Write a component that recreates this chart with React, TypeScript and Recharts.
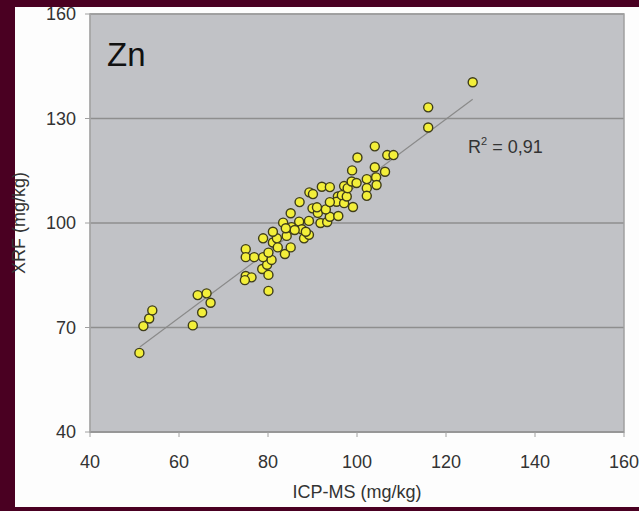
import React from 'react';
import {
  ScatterChart,
  Scatter,
  XAxis,
  YAxis,
  ZAxis,
  CartesianGrid,
  ReferenceLine,
  ReferenceArea,
} from 'recharts';

// ICP-MS (x) and XRF (y) values, mg/kg
const icpms = [
  51.1, 52.0, 53.3, 54.0, 63.1, 64.2, 65.2, 66.2, 67.1,
  75.0, 75.0, 76.9, 75.0, 76.3, 74.8, 78.7, 80.1, 80.1, 79.8, 78.9,
  80.8, 80.1, 83.8, 78.9, 81.1, 82.0, 82.2, 85.1, 84.2, 81.1,
  83.4, 85.3, 85.1, 87.0, 87.6, 88.1, 89.2, 87.1, 89.2, 91.8,
  93.3, 93.9, 95.8, 90.0, 91.2, 93.0, 89.3, 90.1, 92.1, 93.9,
  95.7, 95.4, 93.9, 97.1, 99.1, 96.6, 97.7, 97.1, 97.9, 98.8,
  99.9, 98.9, 100.1, 102.2, 104.3, 104.4, 102.2, 102.2, 104.0, 106.3,
  104.0, 106.8, 108.2, 116.0, 116.0, 126.0,
  86.0, 88.5, 84.0, 91.0,
];
const xrf = [
  62.7, 70.4, 72.6, 74.9, 70.6, 79.3, 74.3, 79.8, 77.1,
  92.5, 90.2, 90.2, 84.8, 84.4, 83.6, 86.8, 80.5, 85.1, 88.0, 90.2,
  89.4, 91.5, 91.1, 95.6, 94.4, 95.6, 93.0, 93.0, 96.3, 97.5,
  100.1, 98.8, 102.8, 100.4, 98.2, 95.6, 96.6, 106.0, 100.6, 100.0,
  100.3, 101.8, 102.0, 104.2, 102.9, 103.9, 108.8, 108.3, 110.4, 110.3,
  107.6, 106.1, 106.0, 105.7, 104.6, 108.0, 107.6, 110.6, 110.0, 111.9,
  111.5, 115.1, 118.8, 112.6, 113.1, 110.9, 110.0, 107.8, 116.0, 114.7,
  122.0, 119.5, 119.5, 133.2, 127.4, 140.4,
  98.0, 97.5, 98.5, 104.5,
];

const xTicks = [40, 60, 80, 100, 120, 140, 160];
const yTicks = [40, 70, 100, 130, 160];
const trendX = [51.2, 126.0];
const trendY = [64.4, 135.5];

const points = icpms.map((x, i) => ({ x, y: xrf[i] }));

const FONT = '"Liberation Sans", Arial, sans-serif';

export default function App() {
  return (
    <div
      style={{
        position: 'absolute',
        left: 0,
        top: 0,
        width: 639,
        height: 511,
        background: '#4a0022',
        overflow: 'hidden',
        fontFamily: FONT,
      }}
    >
      <div
        style={{
          position: 'absolute',
          left: 15,
          top: 7,
          width: 624,
          height: 500,
          background: '#fdfdfd',
        }}
      />
      <div style={{ position: 'absolute', left: 0, top: 0 }}>
        <ScatterChart
          width={639}
          height={511}
          margin={{ top: 14, right: 15, bottom: 29, left: 10 }}
        >
          <CartesianGrid
            vertical={false}
            stroke="#8e8e8e"
            strokeWidth={1.5}
            fill="#c1c2c6"
            fillOpacity={1}
          />
          <XAxis
            type="number"
            dataKey="x"
            domain={[40, 160]}
            ticks={xTicks}
            height={50}
            allowDataOverflow
            tick={{ fill: '#333', fontSize: 18, fontFamily: FONT }}
            tickLine={{ stroke: '#a0a0a0' }}
            tickSize={5}
            tickMargin={18}
            axisLine={{ stroke: '#8e8e8e' }}
            label={{
              value: 'ICP-MS (mg/kg)',
              position: 'bottom',
              offset: 3,
              fill: '#333',
              fontSize: 18,
              fontFamily: FONT,
            }}
          />
          <YAxis
            type="number"
            dataKey="y"
            domain={[40, 160]}
            ticks={yTicks}
            width={80}
            allowDataOverflow
            tick={{ fill: '#333', fontSize: 18, fontFamily: FONT }}
            tickLine={{ stroke: '#a0a0a0' }}
            tickSize={5}
            tickMargin={9}
            axisLine={{ stroke: '#a8a8a8' }}
            label={{
              value: 'XRF (mg/kg)',
              angle: -90,
              position: 'insideLeft',
              offset: 9,
              fill: '#333',
              fontSize: 18,
              fontFamily: FONT,
              style: { textAnchor: 'middle' },
            }}
          />
          <ZAxis range={[155, 155]} />
          <ReferenceArea
            x1={40}
            x2={160}
            y1={40}
            y2={160}
            fill="none"
            stroke="#a0a0a0"
            strokeWidth={1.5}
          />
          <ReferenceLine
            segment={[
              { x: trendX[0], y: trendY[0] },
              { x: trendX[1], y: trendY[1] },
            ]}
            stroke="#8a8a8a"
            strokeWidth={1.2}
          />
          <Scatter
            data={points}
            fill="#f3ef3a"
            stroke="#3f3d1a"
            strokeWidth={1.4}
            isAnimationActive={false}
          />
        </ScatterChart>
      </div>
      <div
        style={{
          position: 'absolute',
          left: 107,
          top: 38,
          fontSize: 33,
          color: '#111',
          lineHeight: 1,
        }}
      >
        Zn
      </div>
      <div
        style={{
          position: 'absolute',
          left: 468,
          top: 138,
          fontSize: 18,
          color: '#333',
          lineHeight: 1,
          whiteSpace: 'nowrap',
        }}
      >
        R<sup style={{ fontSize: 11, verticalAlign: 'top', position: 'relative', top: -2 }}>2</sup> = 0,91
      </div>
    </div>
  );
}
